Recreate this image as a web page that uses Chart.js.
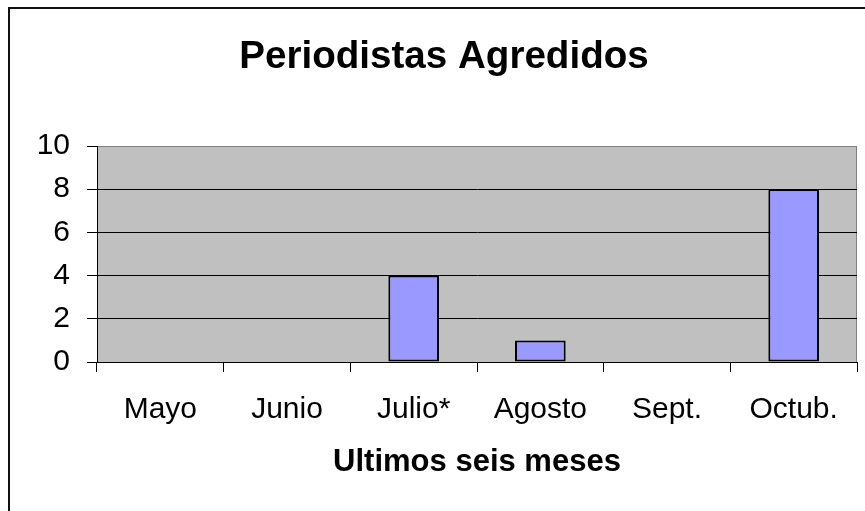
<!DOCTYPE html>
<html>
<head>
<meta charset="utf-8">
<script src="https://cdn.jsdelivr.net/npm/chart.js@4/dist/chart.umd.min.js"></script>
<style>
  html, body { margin: 0; padding: 0; background: #fff; overflow: hidden; }
  #frame {
    position: absolute; left: 8px; top: 7px;
    width: 1000px; height: 1000px;
    border: 2px solid #111;
  }
  #wrap { position: absolute; left: 0; top: 0; width: 865px; height: 511px; }
</style>
</head>
<body>
<div id="frame"></div>
<div id="wrap"><canvas id="chart" width="865" height="511"></canvas></div>
<script>
// chart data
const months = ['Mayo', 'Junio', 'Julio*', 'Agosto', 'Sept.', 'Octub.'];
const agredidos = [0, 0, 4, 1, 0, 8];
const yTicks = [0, 2, 4, 6, 8, 10];

const FONT = '"Liberation Sans", Arial, sans-serif';

// grey plot background like the excel one
const plotBg = {
  id: 'plotBg',
  beforeDraw(chart) {
    const { ctx, chartArea: a } = chart;
    ctx.save();
    ctx.fillStyle = '#c0c0c0';
    ctx.fillRect(a.left, a.top, a.right - a.left, a.bottom - a.top);
    ctx.strokeStyle = '#808080';
    ctx.lineWidth = 1;
    ctx.strokeRect(a.left + 0.5, a.top + 0.5, a.right - a.left - 1, a.bottom - a.top);
    ctx.restore();
  }
};

const ctx = document.getElementById('chart').getContext('2d');
new Chart(ctx, {
  type: 'bar',
  data: {
    labels: months,
    datasets: [{
      data: agredidos,
      backgroundColor: '#9999ff',
      borderColor: '#000',
      borderWidth: 2,
      borderSkipped: false,
      categoryPercentage: 1,
      barPercentage: 0.4
    }]
  },
  options: {
    responsive: false,
    animation: false,
    layout: { padding: { left: 31, right: 8, top: 0, bottom: 0 } },
    plugins: {
      legend: { display: false },
      tooltip: { enabled: false },
      title: {
        display: true,
        text: 'Periodistas Agredidos',
        color: '#000',
        font: { family: FONT, size: 38.6, weight: 'bold' },
        padding: { top: 34, bottom: 65.7 }
      }
    },
    scales: {
      x: {
        offset: true,
        grid: {
          offset: true,
          drawOnChartArea: false,
          drawTicks: true,
          tickLength: 10,
          tickColor: '#000'
        },
        border: { display: true, color: '#000', width: 1 },
        ticks: {
          color: '#000',
          font: { family: FONT, size: 30 },
          padding: 20,
          maxRotation: 0,
          autoSkip: false
        },
        title: {
          display: true,
          text: 'Ultimos seis meses',
          color: '#000',
          font: { family: FONT, size: 31, weight: 'bold' },
          padding: { top: 0, bottom: 30 }
        },
        afterFit(scale) { scale.height = 149; }
      },
      y: {
        min: 0,
        max: 10,
        afterBuildTicks(scale) {
          scale.ticks = yTicks.map(v => ({ value: v }));
        },
        grid: {
          color: c => (c.tick && c.tick.value === 10 ? '#808080' : '#000'),
          tickColor: '#000',
          tickLength: 10,
          lineWidth: 1
        },
        border: { display: true, color: '#000', width: 1 },
        ticks: {
          color: '#000',
          font: { family: FONT, size: 30 },
          padding: 17
        },
        afterFit(scale) { scale.width = 66; }
      }
    }
  },
  plugins: [plotBg]
});
</script>
</body>
</html>
